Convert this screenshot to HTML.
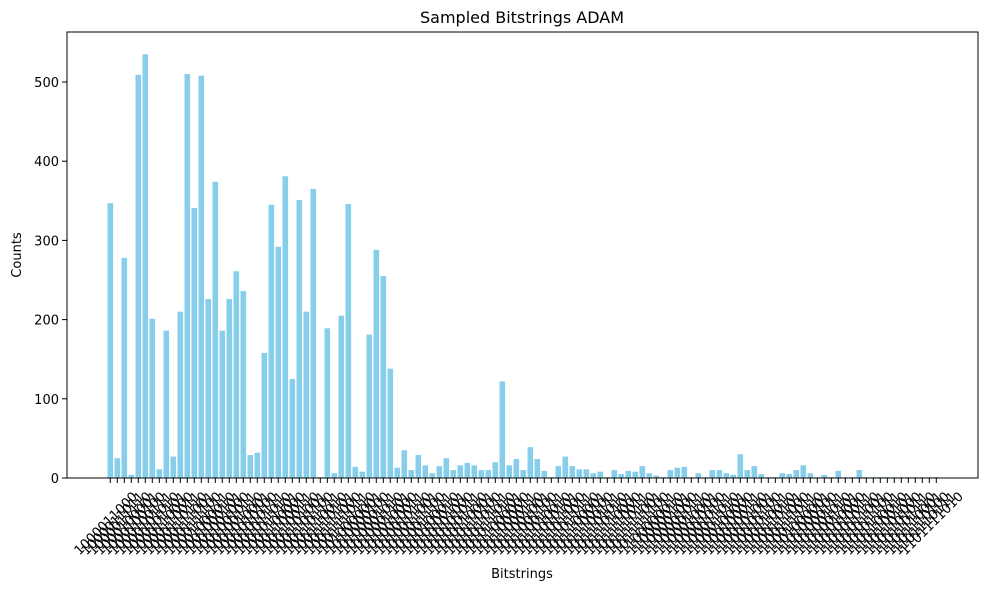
<!DOCTYPE html>
<html><head><meta charset="utf-8"><style>
html,body{margin:0;padding:0;background:#fff;}
svg{display:block;font-family:"DejaVu Sans","Liberation Sans",sans-serif;}
</style></head><body>
<svg id="chart" width="989" height="590" viewBox="0 0 989 590" xmlns="http://www.w3.org/2000/svg">
<text x="522" y="23" font-size="16" text-anchor="middle">Sampled Bitstrings ADAM</text>
<text transform="translate(21,255) rotate(-90)" font-size="13" text-anchor="middle">Counts</text>
<text x="522" y="578" font-size="13" text-anchor="middle">Bitstrings</text>
<g id="bars"></g><g id="xticks"></g><g id="yticks"></g>
<rect x="67" y="32" width="911" height="446" fill="none" stroke="#000" stroke-width="1"/>
</svg>
<script>
const counts = [347,25,278,4,509,535,201,11,186,27,210,510,341,508,226,374,186,226,261,236,29,32,158,345,292,381,125,351,210,365,1,189,6,205,346,14,8,181,288,255,138,13,35,10,29,16,6,15,25,10,16,19,16,10,10,20,122,16,24,10,39,24,9,1,15,27,15,11,11,6,8,1,10,5,9,8,15,6,3,1,10,13,14,1,6,1,10,10,6,4,30,10,15,5,1,1,6,5,10,16,6,1,4,1,9,1,1,10,1,1,1,1,1,1,1,1,1,1,1];
const yTickValues = [0,100,200,300,400,500];
const categories = [];
for (let i = 0; i < counts.length; i++) { categories.push((536 + i * 3).toString(2).padStart(10,'0')); }

const NS = "http://www.w3.org/2000/svg";
const x0 = 110.3, pitch = 7.0, baseY = 478, pxPer = 0.792;
function xScale(i){ return x0 + i * pitch; }
function yScale(v){ return baseY - v * pxPer; }

const bars = document.getElementById('bars');
const xt = document.getElementById('xticks');
counts.forEach((v, i) => {
  const r = document.createElementNS(NS,'rect');
  
  
  r.setAttribute('x', xScale(i) - 2.8);
  r.setAttribute('y', yScale(v));
  r.setAttribute('width', 5.6);
  r.setAttribute('height', baseY - yScale(v));
  r.setAttribute('fill', '#87ceeb');
  bars.appendChild(r);
  const t = document.createElementNS(NS,'line');
  
  
  t.setAttribute('x1', xScale(i)); t.setAttribute('x2', xScale(i));
  t.setAttribute('y1', baseY); t.setAttribute('y2', baseY + 5);
  t.setAttribute('stroke', '#000');
  xt.appendChild(t);
  const lb = document.createElementNS(NS,'text');
  
  
  const cx = xScale(i) - 4, cy = 524;
  lb.setAttribute('transform', 'translate(' + cx + ',' + cy + ') rotate(-45)');
  lb.setAttribute('text-anchor', 'middle');
  lb.setAttribute('dominant-baseline', 'central');
  lb.setAttribute('font-size', '13');
  lb.textContent = categories[i];
  xt.appendChild(lb);
});
const yt = document.getElementById('yticks');
yTickValues.forEach(v => {
  const t = document.createElementNS(NS,'line');
  
  
  t.setAttribute('x1', 62); t.setAttribute('x2', 67);
  t.setAttribute('y1', yScale(v)); t.setAttribute('y2', yScale(v));
  t.setAttribute('stroke', '#000');
  yt.appendChild(t);
  const lb = document.createElementNS(NS,'text');
  
  
  lb.setAttribute('x', 59); lb.setAttribute('y', yScale(v) + 5);
  lb.setAttribute('text-anchor', 'end');
  lb.setAttribute('font-size', '13');
  lb.textContent = v;
  yt.appendChild(lb);
});
</script>
</body></html>
